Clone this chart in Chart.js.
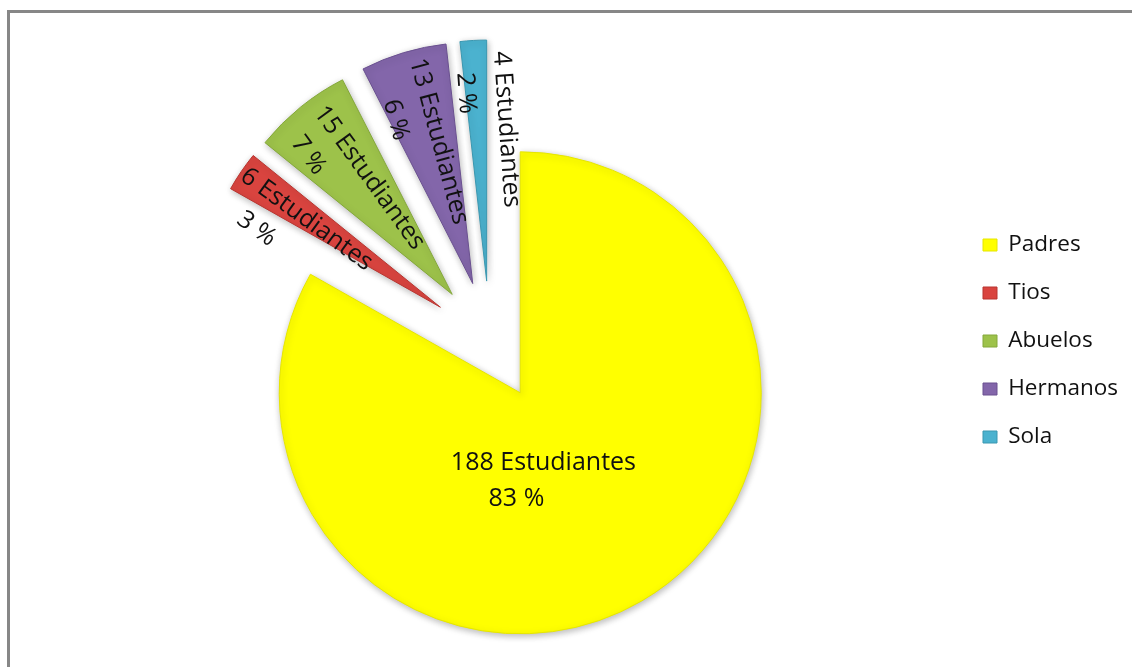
<!DOCTYPE html>
<html lang="es">
<head>
<meta charset="utf-8">
<title>Con quién viven los estudiantes</title>
<script src="https://cdn.jsdelivr.net/npm/chart.js@4.4.1/dist/chart.umd.min.js"></script>
<style>
  html, body { margin: 0; padding: 0; background: #fff; overflow: hidden; width: 1132px; height: 667px; }
  #frame {
    position: absolute; left: 7px; top: 10px; width: 2000px; height: 1200px;
    border-left: 3px solid #878787; border-top: 3px solid #878787;
  }
  #chart { position: absolute; left: 0; top: 0; }
</style>
</head>
<body>
<div id="frame"></div>
<canvas id="chart" width="1132" height="667"></canvas>
<script>
const categories = ['Padres', 'Tios', 'Abuelos', 'Hermanos', 'Sola'];
const students = [188, 6, 15, 13, 4];
const sliceColors = ['#ffff00', '#d9443f', '#9dc24a', '#8366aa', '#4bb2cf'];
const sliceEdges = ['#e6e600', '#b83530', '#84a83a', '#6a5090', '#3a97b0'];

// how far every slice is pulled out from the centre
const explode = 60;

// where each slice's text sits: distance from the slice tip, turn off its
// middle angle, text rotation, and offset of the percent line
const labelSpots = [
  { dist: 74, turn: 12, rot: 0, line2: [-27, 36] },
  { dist: 160, turn: -1, rot: 36, line2: [-35, 37] },
  { dist: 143, turn: 3.6, rot: 54, line2: [-54, 36] },
  { dist: 146, turn: 3.3, rot: 75, line2: [-32, 36] },
  { dist: 153, turn: 10.6, rot: 86, line2: [-39, 38] }
];

const total = students.reduce((a, b) => a + b, 0);
const deg = Math.PI / 180;

const explodePlugin = {
  id: 'explode',
  afterDatasetUpdate(chart, args) {
    args.meta.data.forEach(arc => {
      const mid = (arc.startAngle + arc.endAngle) / 2;
      arc.x += Math.cos(mid) * explode;
      arc.y += Math.sin(mid) * explode;
    });
  }
};

const shadowPlugin = {
  id: 'sliceShadow',
  beforeDatasetsDraw(chart) {
    const ctx = chart.ctx;
    ctx.save();
    ctx.shadowColor = 'rgba(0,0,0,0.28)';
    ctx.shadowBlur = 7;
    ctx.shadowOffsetX = 1;
    ctx.shadowOffsetY = 2;
  },
  afterDatasetsDraw(chart) {
    chart.ctx.restore();
  }
};

const labelPlugin = {
  id: 'sliceLabels',
  afterDatasetsDraw(chart) {
    const ctx = chart.ctx;
    const meta = chart.getDatasetMeta(0);
    ctx.save();
    ctx.font = "25px 'Open Sans'";
    ctx.fillStyle = '#111';
    ctx.textAlign = 'center';
    ctx.textBaseline = 'middle';
    meta.data.forEach((arc, i) => {
      const spot = labelSpots[i];
      const a = (arc.startAngle + arc.endAngle) / 2 + spot.turn * deg;
      ctx.save();
      ctx.translate(arc.x + Math.cos(a) * spot.dist, arc.y + Math.sin(a) * spot.dist);
      ctx.rotate(spot.rot * deg);
      ctx.fillText(students[i] + ' Estudiantes', 0, 0);
      ctx.fillText(Math.round(students[i] / total * 100) + ' %', spot.line2[0], spot.line2[1]);
      ctx.restore();
    });
    ctx.restore();
  }
};

Chart.defaults.font.family = "'Open Sans', sans-serif";
Chart.defaults.color = '#111';

new Chart(document.getElementById('chart'), {
  type: 'pie',
  data: {
    labels: categories,
    datasets: [{
      data: students,
      backgroundColor: sliceColors,
      borderColor: sliceEdges,
      borderWidth: 1
    }]
  },
  options: {
    responsive: false,
    animation: false,
    radius: 241,
    layout: { padding: { left: 22.5, right: 9.5, top: 17, bottom: 2 } },
    plugins: {
      legend: {
        position: 'right',
        maxWidth: 165,
        labels: {
          boxWidth: 14,
          boxHeight: 12,
          padding: 25.5,
          font: { size: 22.5 },
          color: '#111'
        }
      },
      tooltip: { enabled: false }
    }
  },
  plugins: [explodePlugin, shadowPlugin, labelPlugin]
});
</script>
</body>
</html>
